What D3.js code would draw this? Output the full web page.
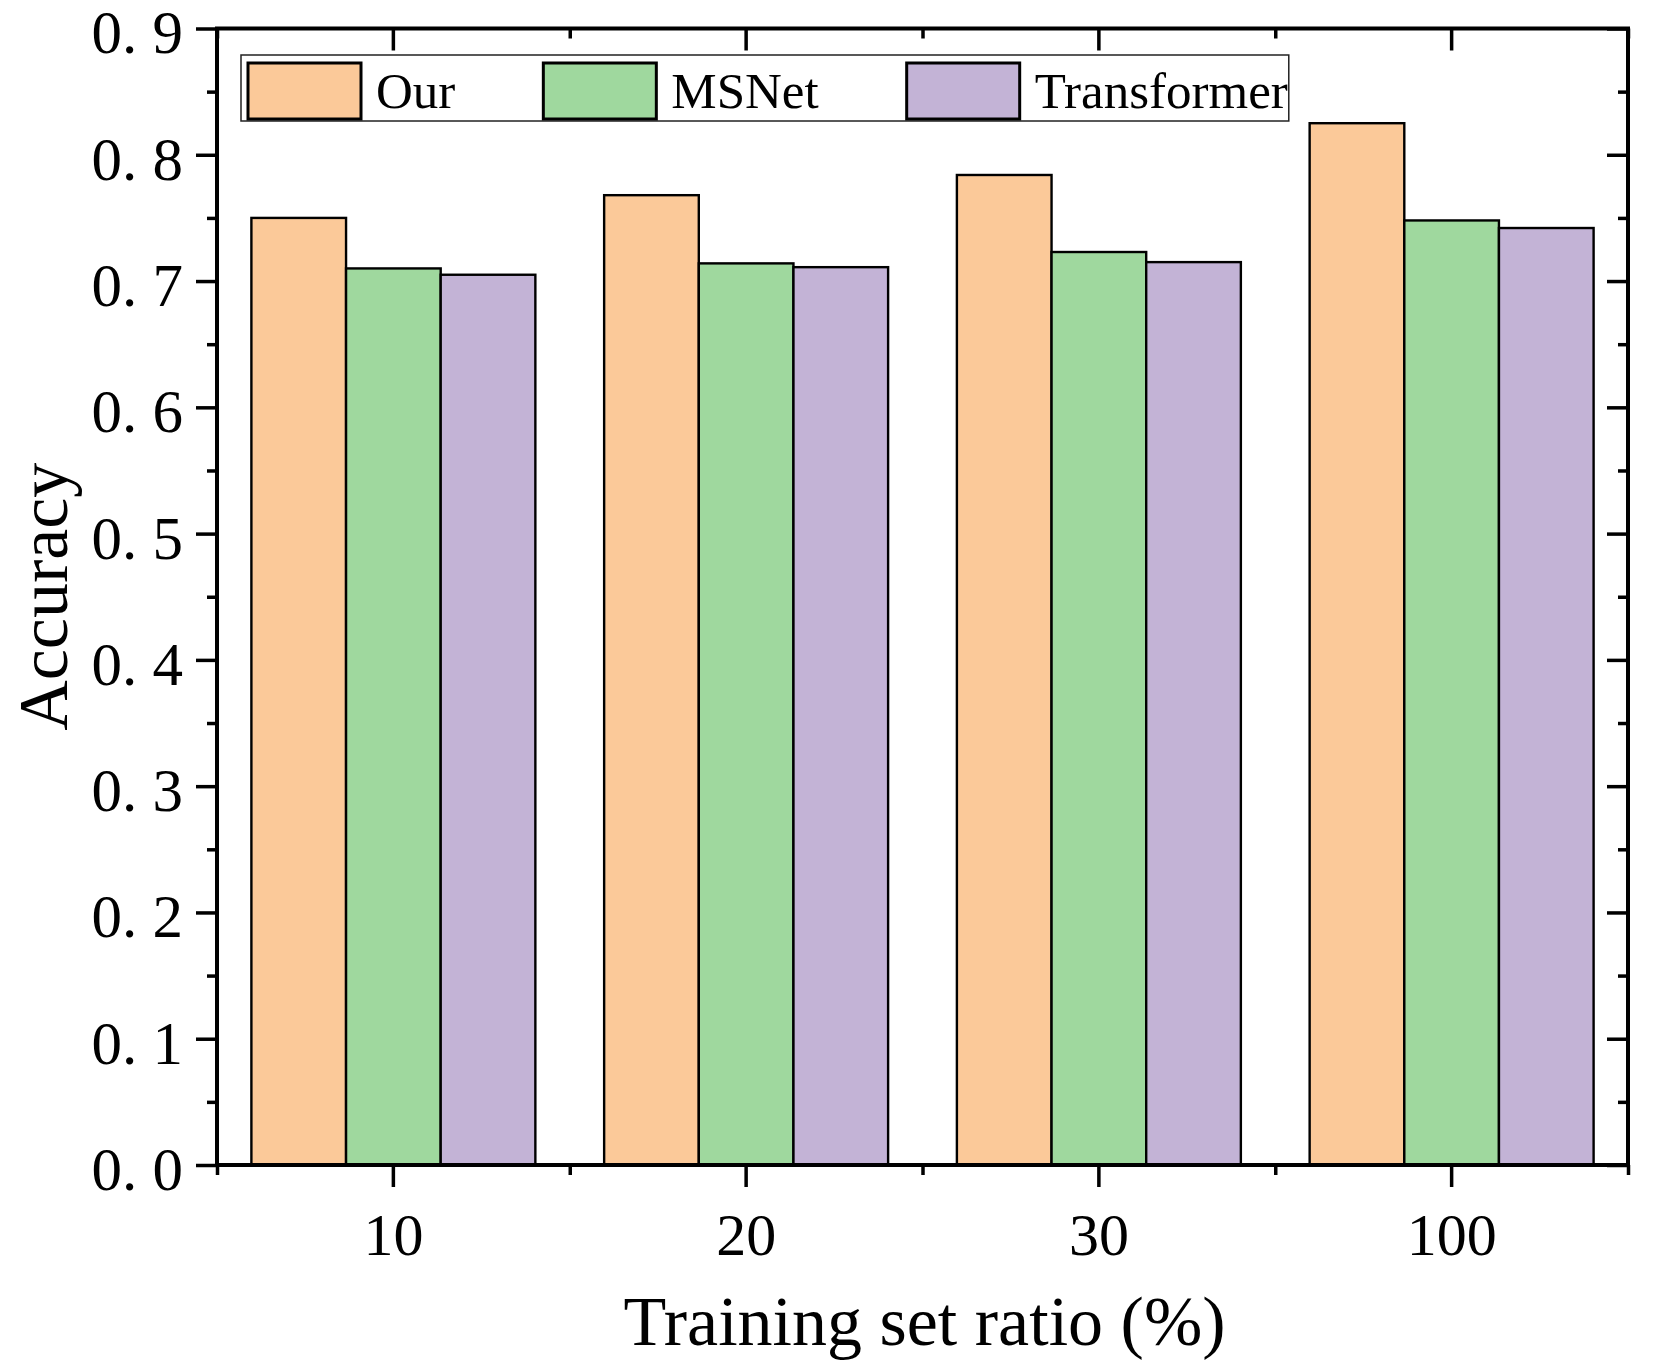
<!DOCTYPE html>
<html>
<head>
<meta charset="utf-8">
<script src="https://cdn.jsdelivr.net/npm/d3@7"></script>
<style>
  html, body { margin: 0; padding: 0; background: #fff; }
  svg { display: block; }
  text { font-family: "Liberation Serif", "Times New Roman", serif; fill: #000; }
</style>
</head>
<body>
<svg id="chart" width="1661" height="1369"></svg>
<script>
// ---- data ----
const categories = ["10", "20", "30", "100"];
const seriesNames = ["Our", "MSNet", "Transformer"];
const ourValues = [0.750, 0.768, 0.784, 0.825];
const msnetValues = [0.710, 0.714, 0.723, 0.748];
const transformerValues = [0.705, 0.711, 0.715, 0.742];
const yTickValues = [0.0, 0.1, 0.2, 0.3, 0.4, 0.5, 0.6, 0.7, 0.8, 0.9];
const yMinorValues = [0.05, 0.15, 0.25, 0.35, 0.45, 0.55, 0.65, 0.75, 0.85];
const seriesColors = ["#FBC999", "#9FD89E", "#C3B3D6"];
const xTitle = "Training set ratio (%)";
const yTitle = "Accuracy";

const seriesValues = [ourValues, msnetValues, transformerValues];
const rows = categories.map((c, i) => ({
  cat: c,
  vals: seriesNames.map((s, j) => ({ key: s, value: seriesValues[j][i], color: seriesColors[j] }))
}));

// ---- layout ----
const L = 217, R = 1628, T = 28.5, B = 1165;
const svg = d3.select("#chart");

const x0 = d3.scaleBand().domain(categories).range([L, R]).paddingInner(0.195).paddingOuter(0.0975);
const x1 = d3.scaleBand().domain(seriesNames).range([0, x0.bandwidth()]);
const xEdges = d3.scaleLinear().domain([0, categories.length]).range([L, R]);
const y = d3.scaleLinear().domain([0, 0.9]).range([B, T]);

// ---- bars ----
const g = svg.append("g");
g.selectAll("g.grp").data(rows).join("g")
  .attr("class", "grp")
  .attr("transform", d => `translate(${x0(d.cat)},0)`)
  .selectAll("rect").data(d => d.vals).join("rect")
  .attr("x", d => x1(d.key))
  .attr("y", d => y(d.value))
  .attr("width", x1.bandwidth())
  .attr("height", d => y(0) - y(d.value))
  .attr("fill", d => d.color)
  .attr("stroke", "#000")
  .attr("stroke-width", 2.4);

// ---- axes ----
function styleAxis(sel, lw) {
  sel.select(".domain").remove();
  sel.selectAll(".tick line").attr("stroke", "#000").attr("stroke-width", lw);
}
const fmt = d => d.toFixed(1).replace(".", ". ");

// left major
const gl = svg.append("g").attr("transform", `translate(${L},0)`)
  .call(d3.axisLeft(y).tickValues(yTickValues).tickSize(21).tickPadding(13).tickFormat(fmt));
styleAxis(gl, 3.5);
gl.selectAll(".tick text").attr("font-size", 61).attr("dy", "0.40em")
  .style("font-family", '"Liberation Serif", serif');
// left minor
const glm = svg.append("g").attr("transform", `translate(${L},0)`)
  .call(d3.axisLeft(y).tickValues(yMinorValues).tickSize(10).tickFormat(""));
styleAxis(glm, 3.5);
// right major/minor (inside)
const gr = svg.append("g").attr("transform", `translate(${R},0)`)
  .call(d3.axisLeft(y).tickValues(yTickValues).tickSize(21).tickFormat(""));
styleAxis(gr, 3.5);
const grm = svg.append("g").attr("transform", `translate(${R},0)`)
  .call(d3.axisLeft(y).tickValues(yMinorValues).tickSize(10).tickFormat(""));
styleAxis(grm, 3.5);

// bottom major
const gb = svg.append("g").attr("transform", `translate(0,${B})`)
  .call(d3.axisBottom(x0).tickSize(22).tickPadding(25));
styleAxis(gb, 3.5);
gb.selectAll(".tick text").attr("font-size", 60).attr("dy", "0.71em")
  .style("font-family", '"Liberation Serif", serif');
// bottom minor
const gbm = svg.append("g").attr("transform", `translate(0,${B})`)
  .call(d3.axisBottom(xEdges).ticks(categories.length).tickSize(10).tickFormat(""));
styleAxis(gbm, 3.5);
// top major/minor (inside)
const gt = svg.append("g").attr("transform", `translate(0,${T})`)
  .call(d3.axisBottom(x0).tickSize(22).tickFormat(""));
styleAxis(gt, 3.5);
const gtm = svg.append("g").attr("transform", `translate(0,${T})`)
  .call(d3.axisBottom(xEdges).ticks(categories.length).tickSize(10).tickFormat(""));
styleAxis(gtm, 3.5);

// frame
svg.append("rect").attr("x", L).attr("y", T).attr("width", R - L).attr("height", B - T)
  .attr("fill", "none").attr("stroke", "#000").attr("stroke-width", 4);

// ---- titles ----
svg.append("text").attr("x", (L + R) / 2 + 2).attr("y", 1345)
  .attr("text-anchor", "middle").attr("font-size", 70).text(xTitle);
svg.append("text").attr("transform", `translate(67,${(T + B) / 2}) rotate(-90)`)
  .attr("text-anchor", "middle").attr("font-size", 70).text(yTitle);

// ---- legend ----
const lg = svg.append("g");
const box = lg.append("rect").attr("x", 241).attr("y", 55).attr("height", 66)
  .attr("fill", "#fff").attr("stroke", "#222").attr("stroke-width", 1.5);
let cx = 248;
let lastEnd = 0;
seriesNames.forEach((name, i) => {
  lg.append("rect").attr("x", cx).attr("y", 63).attr("width", 113).attr("height", 56)
    .attr("fill", seriesColors[i]).attr("stroke", "#000").attr("stroke-width", 3);
  const t = lg.append("text").attr("x", cx + 128).attr("y", 108).attr("font-size", 51).text(name);
  const w = t.node().getComputedTextLength();
  lastEnd = cx + 128 + w;
  cx = lastEnd + 88;
});
box.attr("width", lastEnd + 1 - 241);
</script>
</body>
</html>
